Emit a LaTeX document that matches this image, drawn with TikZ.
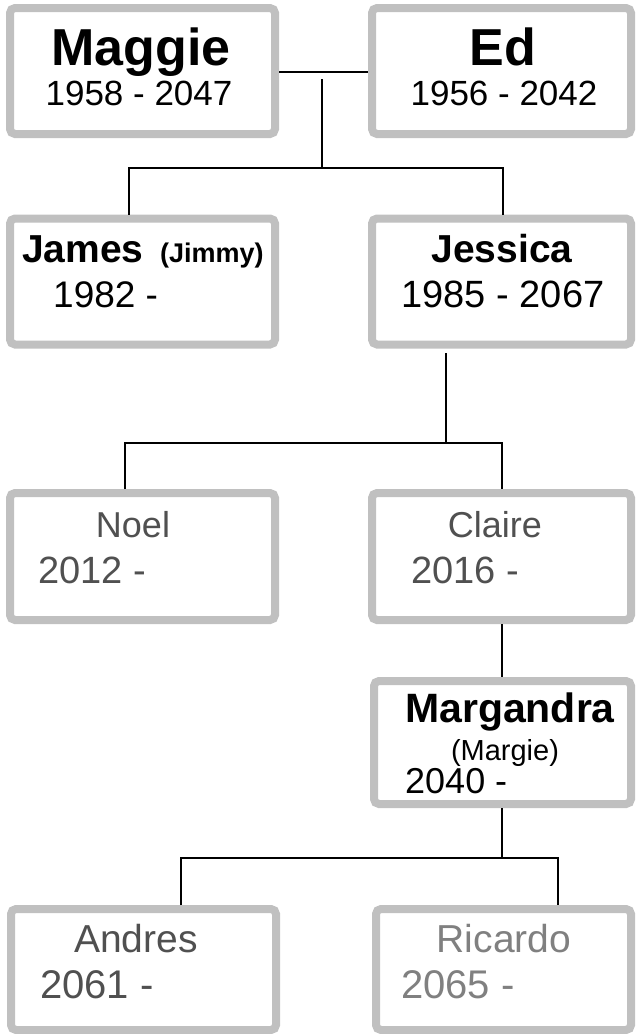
\documentclass[tikz,border=0pt]{standalone}
\usepackage{fontspec}
\setmainfont{Liberation Sans}
\definecolor{boxgray}{HTML}{C0C0C0}
\definecolor{darktext}{HTML}{505050}
\definecolor{lighttext}{HTML}{808080}
\tikzset{
  person/.style={draw=boxgray, line width=8pt, fill=white, rounded corners=5pt, inner sep=0pt},
  link/.style={draw=black, line width=1.8pt},
  txt/.style={inner sep=0pt, anchor=base},
  txtl/.style={inner sep=0pt, anchor=base west},
}
\newcommand{\fsz}[1]{\fontsize{#1}{#1}\selectfont}
\begin{document}
\begin{tikzpicture}[x=1pt,y=-1pt]
\useasboundingbox (0,0) rectangle (635,1034);
% junction coordinates
\coordinate (m1) at (322,79);
\coordinate (m2) at (322,168);
\coordinate (jl) at (129,168);
\coordinate (jr) at (503,168);
\coordinate (j1) at (446,353);
\coordinate (j2) at (446,443);
\coordinate (nl) at (125,443);
\coordinate (nr) at (502,443);
\coordinate (g1) at (502,858);
\coordinate (al) at (181,858);
\coordinate (ar) at (558,858);
% boxes
\node[person, minimum width=265pt, minimum height=126pt] (maggie) at (142.5,71) {};
\node[person, minimum width=259pt, minimum height=126pt] (ed) at (501.5,71) {};
\node[person, minimum width=265pt, minimum height=126pt] (james) at (142.5,281.5) {};
\node[person, minimum width=259pt, minimum height=126pt] (jessica) at (501.5,281.5) {};
\node[person, minimum width=265pt, minimum height=127pt] (noel) at (142.5,556.5) {};
\node[person, minimum width=259pt, minimum height=127pt] (claire) at (501.5,556.5) {};
\node[person, minimum width=257pt, minimum height=123pt] (margandra) at (502.5,742.5) {};
\node[person, minimum width=265pt, minimum height=121pt] (andres) at (143.5,969.5) {};
\node[person, minimum width=255pt, minimum height=121pt] (ricardo) at (503.5,969.5) {};
% connectors
\draw[link] (maggie.east |- 0,72) -- (ed.west |- 0,72);
\draw[link] (m1) -- (m2);
\draw[link] (jl |- james.north) -- (jl) -- (jr) -- (jr |- jessica.north);
\draw[link] (j1) -- (j2);
\draw[link] (nl |- noel.north) -- (nl) -- (nr) -- (nr |- claire.north);
\draw[link] (claire.south -| 502,0) -- (margandra.north -| 502,0);
\draw[link] (margandra.south -| g1) -- (g1);
\draw[link] (al |- andres.north) -- (al) -- (ar) -- (ar |- ricardo.north);
% texts
\node[txt, font=\bfseries\fsz{52}] (tmaggie) at (141,65) {Maggie};
\node[txt, font=\fsz{35}] (dmaggie) at (139,105) {1958 - 2047};
\node[txt, font=\bfseries\fsz{52}] (ted) at (503,65) {Ed};
\node[txt, font=\fsz{35}] (ded) at (504,105) {1956 - 2042};
\node[txtl, font=\bfseries\fsz{39}] (tjames) at (22,262) {James};
\node[txtl, font=\bfseries\fsz{27}] (tjimmy) at (160,262) {(Jimmy)};
\node[txtl, font=\fsz{37}] (djames) at (53,307) {1982 -};
\node[txt, font=\bfseries\fsz{39}] (tjessica) at (502,262) {Jessica};
\node[txt, font=\fsz{38}] (djessica) at (503,307) {1985 - 2067};
\node[txt, font=\fsz{36}, text=darktext] (tnoel) at (133,537) {Noel};
\node[txtl, font=\fsz{38}, text=darktext] (dnoel) at (38,583) {2012 -};
\node[txt, font=\fsz{36}, text=darktext] (tclaire) at (495,537) {Claire};
\node[txtl, font=\fsz{38}, text=darktext] (dclaire) at (411,583) {2016 -};
\node[txt, font=\bfseries\fsz{41}] (tmarg) at (510,722) {Margandra};
\node[txt, font=\fsz{29}] (tmargie) at (505,760) {(Margie)};
\node[txtl, font=\fsz{36}] (dmarg) at (405,793) {2040 -};
\node[txt, font=\fsz{39}, text=darktext] (tandres) at (136,952) {Andres};
\node[txtl, font=\fsz{40}, text=darktext] (dandres) at (40,998) {2061 -};
\node[txt, font=\fsz{39}, text=lighttext] (tricardo) at (504,952) {Ricardo};
\node[txtl, font=\fsz{40}, text=lighttext] (dricardo) at (401,998) {2065 -};
\end{tikzpicture}
\end{document}
